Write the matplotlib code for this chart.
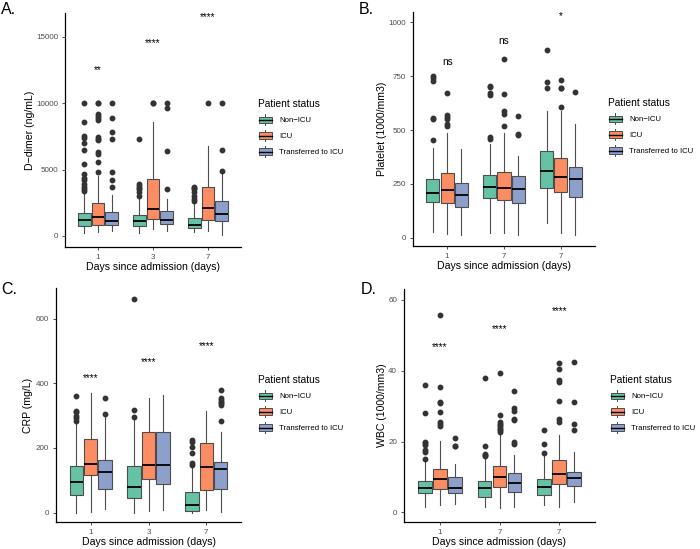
import matplotlib
matplotlib.use("Agg")
import matplotlib.pyplot as plt
from matplotlib.patches import Rectangle, Patch
from matplotlib.lines import Line2D
from matplotlib.legend_handler import HandlerBase

plt.rcParams['font.family'] = ['Liberation Sans', 'DejaVu Sans']

# ---------------- data ----------------
statuses = ["Non\u2212ICU", "ICU", "Transferred to ICU"]
colors = ["#66C2A5", "#FC8D62", "#8DA0CB"]

# Panel A: D-dimer (ng/mL)
dimer_days = ["1", "3", "7"]
dimer_lo  = [[200, 250, 300], [300, 500, 400], [400, 400, 50]]
dimer_q1  = [[740, 740, 570], [810, 1300, 1190], [810, 870, 1140]]
dimer_med = [[1200, 1150, 850], [1450, 2000, 2070], [1100, 1200, 1620]]
dimer_q3  = [[1740, 1600, 1320], [2450, 4300, 3700], [1790, 1850, 2620]]
dimer_hi  = [[3200, 2850, 2400], [4500, 8600, 6800], [3100, 2800, 4700]]
dimer_fliers = [
    [[10000, 8600, 7500, 7400, 7000, 6500, 5400, 4700, 4400, 4200, 3900, 3700, 3500, 3400],
     [7300, 3900, 3800, 3600, 3500, 3300, 3000],
     [3700, 3600, 3500, 3300, 3000, 2800, 2600]],
    [[10000, 10000, 9200, 9000, 8850, 8700, 7450, 7300, 7200, 6300, 6150, 5600, 4780],
     [10000, 10000],
     [10000]],
    [[10000, 8850, 7800, 7300, 4780, 4220, 3670],
     [10000, 9600, 6400, 3500],
     [10000, 6500, 4900]],
]
dimer_sig = ["**", "****", "****"]
dimer_sig_y = [12500, 14500, 16500]

# Panel B: Platelet (1000/mm3)
plt_days = ["1", "7", "7"]
plt_lo  = [[25, 22, 70], [20, 23, 23], [12, 12, 12]]
plt_q1  = [[167, 183, 229], [160, 175, 214], [144, 160, 190]]
plt_med = [[209, 236, 310], [222, 229, 283], [198, 226, 271]]
plt_q3  = [[271, 291, 404], [299, 305, 369], [255, 286, 330]]
plt_hi  = [[415, 435, 588], [485, 488, 590], [410, 380, 526]]
plt_fliers = [
    [[750, 740, 727, 557, 550, 453], [706, 700, 670, 665, 470, 458], [871, 724, 693]],
    [[670, 570, 560, 550, 530, 520], [832, 667, 589, 575, 520], [731, 697, 693, 608]],
    [[], [565, 480, 476], [678]],
]
plt_sig = ["ns", "ns", "*"]
plt_sig_y = [817, 913, 1031]

# Panel C: CRP (mg/L)
crp_days = ["1", "3", "7"]
crp_lo  = [[0, 0, 0], [3, 5, 8], [10, 7, 2]]
crp_q1  = [[53, 44, 6], [116, 103, 70], [73, 89, 73]]
crp_med = [[94, 78, 23], [150, 148, 142], [127, 148, 135]]
crp_q3  = [[144, 144, 63], [227, 249, 215], [163, 248, 156]]
crp_hi  = [[277, 290, 145], [369, 356, 315], [297, 364, 250]]
crp_fliers = [
    [[360, 315, 310, 300, 292, 285], [661, 318, 297], [224, 218, 203, 183, 152, 147]],
    [[], [], []],
    [[354, 306], [], [379, 354, 348, 343, 338, 333, 283]],
]
crp_sig = ["****", "****", "****"]
crp_sig_y = [416, 465, 516]

# Panel D: WBC (1000/mm3)
wbc_days = ["1", "7", "7"]
wbc_lo  = [[1.6, 1.5, 2.0], [2.0, 1.3, 1.5], [2.5, 1.5, 3.0]]
wbc_q1  = [[5.4, 4.4, 4.9], [6.5, 7.2, 8.0], [5.4, 5.8, 7.4]]
wbc_med = [[6.8, 6.8, 7.2], [9.5, 10.1, 10.8], [7.0, 8.2, 9.6]]
wbc_q3  = [[8.9, 8.8, 9.4], [12.2, 13.2, 14.8], [9.9, 11.2, 11.4]]
wbc_hi  = [[14.3, 15.2, 15.8], [20.2, 21.9, 21.9], [13.8, 16.2, 17.0]]
wbc_fliers = [
    [[36.0, 28.2, 20.0, 19.5, 19.0, 17.6, 17.1, 15.0], [38.1, 18.7, 16.5, 16.2, 15.8], [23.4, 19.4, 16.9]],
    [[55.7, 35.3, 31.3, 30.8, 28.5, 25.6, 25.0, 24.4], [39.3, 27.5, 25.6, 25.1, 24.8, 24.2, 23.7, 23.2, 22.8],
     [42.1, 40.4, 37.4, 36.9, 31.4, 26.4, 25.6]],
    [[21.0, 18.9, 18.7], [34.4, 29.4, 28.7, 26.4, 26.0, 20.0, 19.3], [42.4, 31.3, 25.1, 23.4]],
]
wbc_sig = ["****", "****", "****"]
wbc_sig_y = [46.8, 51.8, 57.0]

# ---------------- layout ----------------
W, H = 700, 549
fig = plt.figure(figsize=(W / 100, H / 100), dpi=100)
fig.patch.set_facecolor("white")

EDGE = "#4d4d4d"
TICKC = "#4D4D4D"


class BoxKeyHandler(HandlerBase):
    def create_artists(self, legend, orig_handle, xdescent, ydescent,
                       width, height, fontsize, trans):
        fc = orig_handle.get_facecolor()
        x0, y0 = -xdescent, -ydescent
        xm = x0 + width / 2
        arts = [
            Line2D([xm, xm], [y0, y0 + height * 0.2], color=EDGE, lw=0.7, transform=trans),
            Line2D([xm, xm], [y0 + height * 0.8, y0 + height], color=EDGE, lw=0.7, transform=trans),
            Rectangle((x0 + width * 0.05, y0 + height * 0.2), width * 0.9, height * 0.6,
                      facecolor=fc, edgecolor=EDGE, lw=0.7, transform=trans),
            Line2D([x0 + width * 0.05, x0 + width * 0.95], [y0 + height * 0.5] * 2,
                   color="black", lw=1.0, transform=trans),
        ]
        return arts


def px_axes(l, r, t, b):
    return fig.add_axes([l / W, 1 - b / H, (r - l) / W, (b - t) / H])


def panel(box, days, lo, q1, med, q3, hi, fliers, sig, sig_y, ylim, yticks,
          ylabel, ylab_x, letter, letter_xy, leg_xy):
    ax = px_axes(*box)
    offsets = [-0.25, 0.0, 0.25]
    for s in range(3):
        stats = []
        for d in range(3):
            stats.append(dict(med=med[s][d], q1=q1[s][d], q3=q3[s][d],
                              whislo=lo[s][d], whishi=hi[s][d], fliers=fliers[s][d]))
        pos = [d + 1 + offsets[s] for d in range(3)]
        ax.bxp(stats, positions=pos, widths=0.23, patch_artist=True, showcaps=False,
               boxprops=dict(facecolor=colors[s], edgecolor=EDGE, linewidth=0.8),
               medianprops=dict(color="black", linewidth=1.3),
               whiskerprops=dict(color=EDGE, linewidth=0.8),
               flierprops=dict(marker="o", markerfacecolor="#333333",
                               markeredgecolor="#333333", markersize=3.2, linestyle="none"),
               manage_ticks=False, zorder=2)
    for d in range(3):
        ax.text(d + 1, sig_y[d], sig[d], ha="center", va="center", fontsize=7.2, color="black")
    ax.set_xlim(0.4, 3.6)
    ax.set_ylim(*ylim)
    ax.set_xticks([1, 2, 3])
    ax.set_xticklabels(days)
    ax.set_yticks(yticks)
    ax.set_yticklabels([str(v) for v in yticks])
    for sp in ["top", "right"]:
        ax.spines[sp].set_visible(False)
    for sp in ["left", "bottom"]:
        ax.spines[sp].set_linewidth(0.9)
        ax.spines[sp].set_color("black")
    ax.tick_params(axis="both", length=2.5, width=0.6, color="#333333",
                   labelsize=5.8, labelcolor=TICKC, pad=2.5)
    ax.set_facecolor("none")
    l, r, t, b = box
    fig.text(ylab_x / W, 1 - ((t + b) / 2) / H, ylabel, rotation=90,
             ha="center", va="center", fontsize=7.6)
    fig.text(((l + r) / 2) / W, 1 - (b + 20) / H, "Days since admission (days)",
             ha="center", va="center", fontsize=7.6)
    fig.text(letter_xy[0] / W, 1 - letter_xy[1] / H, letter, ha="left", va="center",
             fontsize=11.5)
    handles = [Patch(facecolor=c, edgecolor=EDGE) for c in colors]
    fig.legend(handles, statuses, loc="upper left",
               bbox_to_anchor=(leg_xy[0] / W, 1 - leg_xy[1] / H),
               bbox_transform=fig.transFigure, frameon=False,
               title="Patient status", title_fontsize=7.3, fontsize=5.6,
               handler_map={Patch: BoxKeyHandler()},
               handlelength=1.9, handleheight=1.7, handletextpad=0.85,
               labelspacing=0.7, borderpad=0, borderaxespad=0,
               alignment="left")
    return ax


panel((65, 241, 13, 247), dimer_days, dimer_lo, dimer_q1, dimer_med, dimer_q3, dimer_hi,
      dimer_fliers, dimer_sig, dimer_sig_y, (-828, 16784), [0, 5000, 10000, 15000],
      "D\u2212dimer (ng/mL)", 30, "A.", (1, 10), (258, 99))
panel((413, 595, 12, 246), plt_days, plt_lo, plt_q1, plt_med, plt_q3, plt_hi,
      plt_fliers, plt_sig, plt_sig_y, (-38, 1048), [0, 250, 500, 750, 1000],
      "Platelet (1000/mm3)", 382, "B.", (359, 10), (608, 98))
panel((56, 241, 288, 522), crp_days, crp_lo, crp_q1, crp_med, crp_q3, crp_hi,
      crp_fliers, crp_sig, crp_sig_y, (-29, 695), [0, 200, 400, 600],
      "CRP (mg/L)", 28, "C.", (1, 290), (258, 375))
panel((404, 595, 289, 522), wbc_days, wbc_lo, wbc_q1, wbc_med, wbc_q3, wbc_hi,
      wbc_fliers, wbc_sig, wbc_sig_y, (-2.7, 63.1), [0, 20, 40, 60],
      "WBC (1000/mm3)", 382, "D.", (361, 290), (610, 375))

fig.savefig("out.png", dpi=100, facecolor="white")
